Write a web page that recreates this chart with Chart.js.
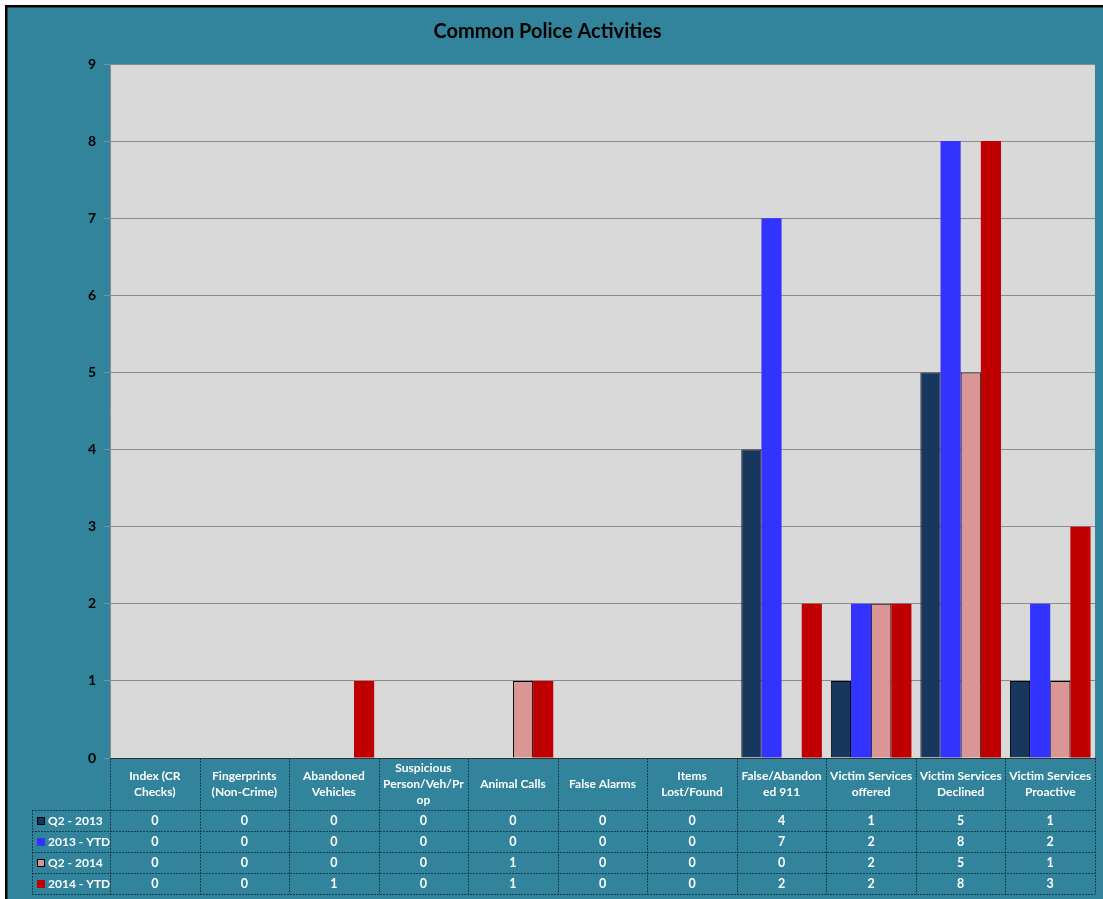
<!DOCTYPE html>
<html>
<head>
<meta charset="utf-8">
<script src="https://cdn.jsdelivr.net/npm/chart.js@4/dist/chart.umd.min.js"></script>
<style>
  html, body { margin: 0; padding: 0; background: #ffffff; }
  #wrap { width: 1103px; height: 899px; }
</style>
</head>
<body>
<div id="wrap"><canvas id="c" width="1103" height="899"></canvas></div>
<script>
const chartTitle = 'Common Police Activities';
const categories = [
  ['Index (CR', 'Checks)'],
  ['Fingerprints', '(Non-Crime)'],
  ['Abandoned', 'Vehicles'],
  ['Suspicious', 'Person/Veh/Pr', 'op'],
  ['Animal Calls'],
  ['False Alarms'],
  ['Items', 'Lost/Found'],
  ['False/Abandon', 'ed 911'],
  ['Victim Services', 'offered'],
  ['Victim Services', 'Declined'],
  ['Victim Services', 'Proactive']
];
const seriesNames = ['Q2 - 2013', '2013 - YTD', 'Q2 - 2014', '2014 - YTD'];
const q2_2013  = [0, 0, 0, 0, 0, 0, 0, 4, 1, 5, 1];
const ytd_2013 = [0, 0, 0, 0, 0, 0, 0, 7, 2, 8, 2];
const q2_2014  = [0, 0, 0, 0, 1, 0, 0, 0, 2, 5, 1];
const ytd_2014 = [0, 0, 1, 0, 1, 0, 0, 2, 2, 8, 3];
const yMax = 9;
const yStep = 1;

const TEAL = '#31849B';
const PLOT_BG = '#D9D9D9';
const FONT = 'Lato, "Liberation Sans", sans-serif';
const colors = ['#17375E', '#3333FF', '#D99694', '#C00000'];
const borders = ['#000000', '#3333FF', '#000000', '#C00000'];
const borderW = [1, 0, 1, 0];
const seriesData = [q2_2013, ytd_2013, q2_2014, ytd_2014];

const backgroundPlugin = {
  id: 'bg',
  beforeDraw(chart) {
    const ctx = chart.ctx;
    const W = chart.width, H = chart.height;
    ctx.save();
    ctx.fillStyle = '#ffffff';
    ctx.fillRect(0, 0, W, H);
    ctx.fillStyle = TEAL;
    ctx.fillRect(5, 5, W - 5, H - 5);
    ctx.fillStyle = '#000000';
    ctx.fillRect(5, 5, 2.5, H - 5);
    ctx.fillRect(5, 5, W - 5, 2.5);
    const a = chart.chartArea;
    ctx.fillStyle = PLOT_BG;
    ctx.fillRect(a.left, a.top, a.right - a.left, a.bottom - a.top);
    ctx.restore();
  }
};

const tablePlugin = {
  id: 'dataTable',
  afterDraw(chart) {
    const ctx = chart.ctx;
    const x = chart.scales.x;
    const a = chart.chartArea;
    const n = categories.length;
    const colW = (a.right - a.left) / n;
    const headerBottom = a.bottom + 52;
    const rowH = 21;
    const tableBottom = headerBottom + rowH * seriesNames.length;
    const legendLeft = 32;
    ctx.save();
    ctx.strokeStyle = 'rgba(15,45,55,0.8)';
    ctx.lineWidth = 1;
    ctx.setLineDash([2, 1]);
    for (let i = 0; i <= n; i++) {
      const px = Math.round(a.left + i * colW) + 0.5;
      ctx.beginPath();
      ctx.moveTo(px, a.bottom);
      ctx.lineTo(px, tableBottom);
      ctx.stroke();
    }
    ctx.beginPath();
    ctx.moveTo(legendLeft + 0.5, headerBottom);
    ctx.lineTo(legendLeft + 0.5, tableBottom);
    ctx.stroke();
    for (let r = 0; r <= seriesNames.length; r++) {
      const py = Math.round(headerBottom + r * rowH) + 0.5;
      ctx.beginPath();
      ctx.moveTo(legendLeft, py);
      ctx.lineTo(a.right, py);
      ctx.stroke();
    }
    ctx.setLineDash([]);
    ctx.font = 'bold 12.5px ' + FONT;
    ctx.fillStyle = '#ffffff';
    ctx.textAlign = 'center';
    ctx.textBaseline = 'middle';
    for (let r = 0; r < seriesNames.length; r++) {
      const cy = headerBottom + r * rowH + rowH / 2 + 0.5;
      for (let i = 0; i < n; i++) {
        ctx.fillText(String(seriesData[r][i]), x.getPixelForValue(i), cy);
      }
    }
    ctx.textAlign = 'left';
    ctx.font = 'bold 12px ' + FONT;
    for (let r = 0; r < seriesNames.length; r++) {
      const cy = headerBottom + r * rowH + rowH / 2;
      const sx = 37, sy = Math.round(cy - 4);
      ctx.fillStyle = colors[r];
      ctx.fillRect(sx, sy, 8, 8);
      if (borderW[r]) {
        ctx.strokeStyle = '#000000';
        ctx.lineWidth = 1;
        ctx.strokeRect(sx + 0.5, sy + 0.5, 7, 7);
      }
      ctx.fillStyle = '#ffffff';
      ctx.fillText(seriesNames[r], 48, cy + 0.5);
    }
    ctx.restore();
  }
};

new Chart(document.getElementById('c'), {
  type: 'bar',
  data: {
    labels: categories,
    datasets: seriesNames.map((name, i) => ({
      label: name,
      data: seriesData[i],
      backgroundColor: colors[i],
      borderColor: borders[i],
      borderWidth: borderW[i],
      borderSkipped: 'bottom',
      categoryPercentage: 0.9,
      barPercentage: 1.0
    }))
  },
  options: {
    responsive: false,
    animation: false,
    devicePixelRatio: 1,
    layout: { padding: { left: 0, right: 8, top: 0, bottom: 0 } },
    plugins: {
      legend: { display: false },
      tooltip: { enabled: false },
      title: {
        display: true,
        text: chartTitle,
        color: '#000000',
        font: { family: FONT, size: 20, weight: 'bold', lineHeight: 1.2 },
        padding: { top: 20, bottom: 20 }
      }
    },
    scales: {
      x: {
        offset: true,
        grid: { display: false, drawTicks: false },
        border: { display: true, color: '#333333', width: 1 },
        ticks: {
          color: '#ffffff',
          font: { family: FONT, size: 12, weight: 'bold', lineHeight: 16 / 12 },
          maxRotation: 0,
          minRotation: 0,
          autoSkip: false,
          crossAlign: 'center',
          padding: 10
        },
        afterFit(scale) { scale.height = 141; }
      },
      y: {
        min: 0,
        max: yMax,
        grid: {
          color: '#8C8C8C',
          lineWidth: 1,
          drawTicks: true,
          tickLength: 6,
          tickColor: '#8C8C8C'
        },
        border: { display: true, color: '#8C8C8C', width: 1 },
        ticks: {
          stepSize: yStep,
          color: '#000000',
          font: { family: FONT, size: 14, weight: 'bold' },
          padding: 8
        },
        afterFit(scale) { scale.width = 110; }
      }
    }
  },
  plugins: [backgroundPlugin, tablePlugin]
});
</script>
</body>
</html>
